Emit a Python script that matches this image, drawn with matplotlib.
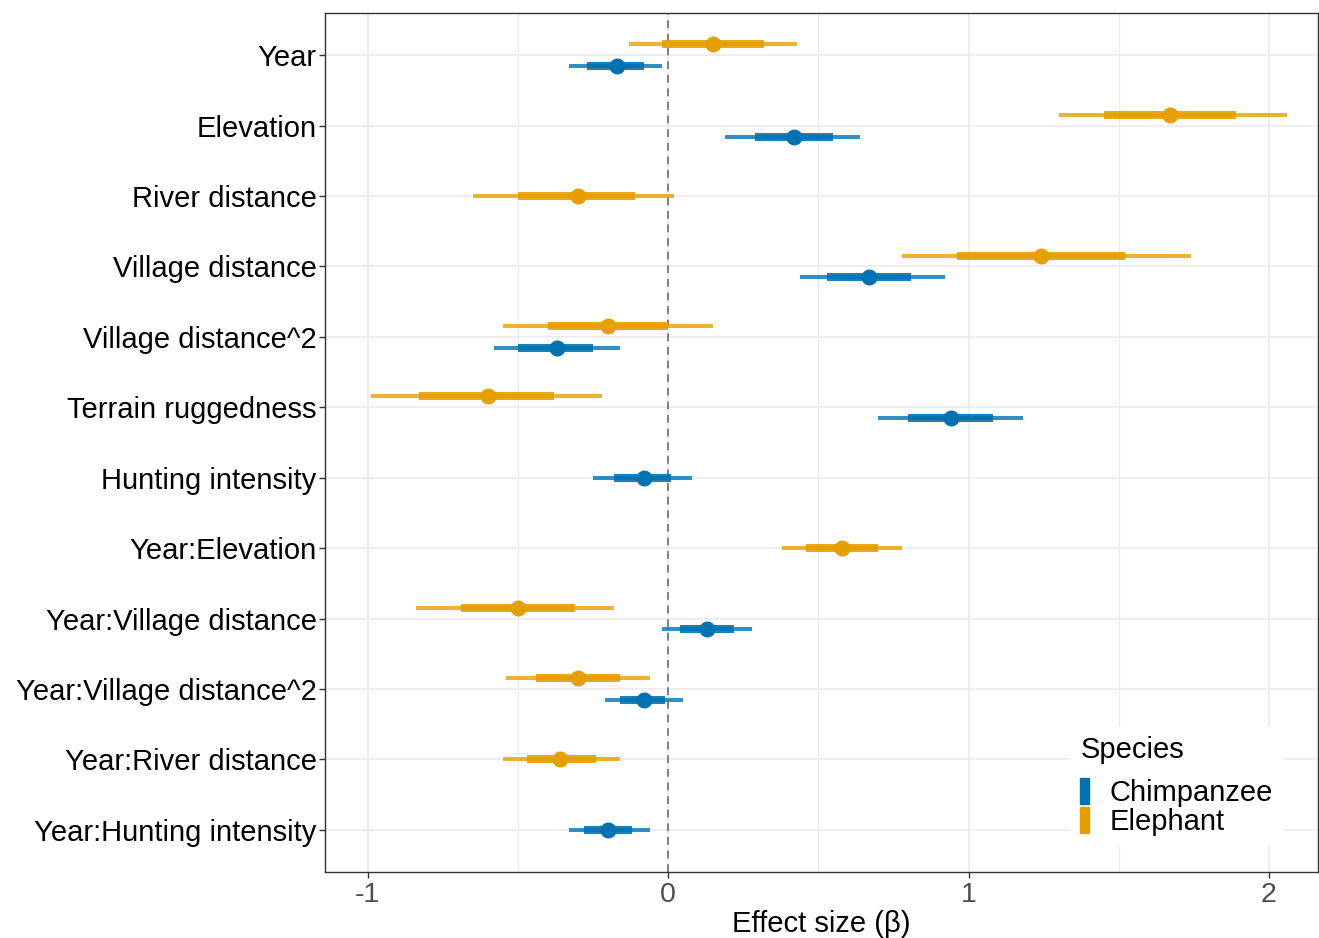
import matplotlib.pyplot as plt
import matplotlib.patches as mpatches

plt.rcParams['font.family'] = ['Liberation Sans', 'DejaVu Sans']

# Terms from top to bottom
terms = ["Year", "Elevation", "River distance", "Village distance",
         "Village distance^2", "Terrain ruggedness", "Hunting intensity",
         "Year:Elevation", "Year:Village distance", "Year:Village distance^2",
         "Year:River distance", "Year:Hunting intensity"]

# Elephant estimates: median, 50% interval, 95% interval
ele_terms = ["Year", "Elevation", "River distance", "Village distance",
             "Village distance^2", "Terrain ruggedness", "Year:Elevation",
             "Year:Village distance", "Year:Village distance^2", "Year:River distance"]
ele_est = [0.15, 1.67, -0.30, 1.24, -0.20, -0.60, 0.58, -0.50, -0.30, -0.36]
ele_lo50 = [-0.02, 1.45, -0.50, 0.96, -0.40, -0.83, 0.46, -0.69, -0.44, -0.47]
ele_hi50 = [0.32, 1.89, -0.11, 1.52, 0.00, -0.38, 0.70, -0.31, -0.16, -0.24]
ele_lo95 = [-0.13, 1.30, -0.65, 0.78, -0.55, -0.99, 0.38, -0.84, -0.54, -0.55]
ele_hi95 = [0.43, 2.06, 0.02, 1.74, 0.15, -0.22, 0.78, -0.18, -0.06, -0.16]

# Chimpanzee estimates
chi_terms = ["Year", "Elevation", "Village distance", "Village distance^2",
             "Terrain ruggedness", "Hunting intensity", "Year:Village distance",
             "Year:Village distance^2", "Year:Hunting intensity"]
chi_est = [-0.17, 0.42, 0.67, -0.37, 0.94, -0.08, 0.13, -0.08, -0.20]
chi_lo50 = [-0.27, 0.29, 0.53, -0.50, 0.80, -0.18, 0.04, -0.16, -0.28]
chi_hi50 = [-0.08, 0.55, 0.81, -0.25, 1.08, 0.01, 0.22, -0.01, -0.12]
chi_lo95 = [-0.33, 0.19, 0.44, -0.58, 0.70, -0.25, -0.02, -0.21, -0.33]
chi_hi95 = [-0.02, 0.64, 0.92, -0.16, 1.18, 0.08, 0.28, 0.05, -0.06]

col_chi = "#0072B2"
col_ele = "#E69F00"

fig, ax = plt.subplots(figsize=(13.19, 9.38), dpi=100)
fig.subplots_adjust(left=0.2464, right=0.9992, top=0.9861, bottom=0.0704)

both = set(ele_terms) & set(chi_terms)
dodge = 0.155


def draw(tlist, est, lo50, hi50, lo95, hi95, color, sign):
    for t, e, l5, h5, l9, h9 in zip(tlist, est, lo50, hi50, lo95, hi95):
        y = terms.index(t) + (sign * dodge if t in both else 0)
        ax.plot([l9, h9], [y, y], color=color, lw=2.9, alpha=0.8,
                solid_capstyle='butt', zorder=3)
        ax.plot([l5, h5], [y, y], color=color, lw=5.8, alpha=0.9,
                solid_capstyle='butt', zorder=4)
        ax.plot([e], [y], 'o', color=color, ms=10.5, zorder=5)


draw(ele_terms, ele_est, ele_lo50, ele_hi50, ele_lo95, ele_hi95, col_ele, -1)
draw(chi_terms, chi_est, chi_lo50, chi_hi50, chi_lo95, chi_hi95, col_chi, 1)

ax.axvline(0, color="#7f7f7f", lw=1.4, ls=(0, (4, 3)), zorder=2)

ax.set_xlim(-1.142, 2.163)
ax.set_ylim(len(terms) - 0.4, -0.6)
ax.set_yticks(range(len(terms)))
ax.set_yticklabels(terms, fontsize=21, color="black")
ax.set_xticks([-1, 0, 1, 2])
ax.set_xticklabels(["-1", "0", "1", "2"], fontsize=20.5, color="#4d4d4d")
ax.set_xticks([-0.5, 0.5, 1.5], minor=True)
ax.tick_params(which='minor', length=0)
ax.tick_params(which='major', length=4, width=1, color="#333333", pad=3)
ax.tick_params(axis='y', pad=2)
ax.grid(True, which='major', color="#ebebeb", lw=1.2, zorder=0)
ax.grid(True, which='minor', axis='x', color="#ebebeb", lw=0.8, zorder=0)
ax.set_axisbelow(True)
for s in ax.spines.values():
    s.set_color("#333333")
    s.set_linewidth(1.0)

ax.set_xlabel("Effect size (β)", fontsize=21, labelpad=2)

handles = [mpatches.Patch(color=col_chi, label="Chimpanzee"),
           mpatches.Patch(color=col_ele, label="Elephant")]
leg = ax.legend(handles=handles, title="Species", loc='lower right',
                bbox_to_anchor=(0.978, 0.015), fontsize=21, title_fontsize=21,
                frameon=True, handlelength=0.3, handleheight=1.0,
                handletextpad=0.7, labelspacing=0.0, borderpad=0.3,
                alignment='left')
leg.get_frame().set_edgecolor('white')
leg.get_frame().set_facecolor('white')
leg.get_frame().set_alpha(1)
leg._legend_box.sep = 10

fig.savefig("out.png", dpi=100)
